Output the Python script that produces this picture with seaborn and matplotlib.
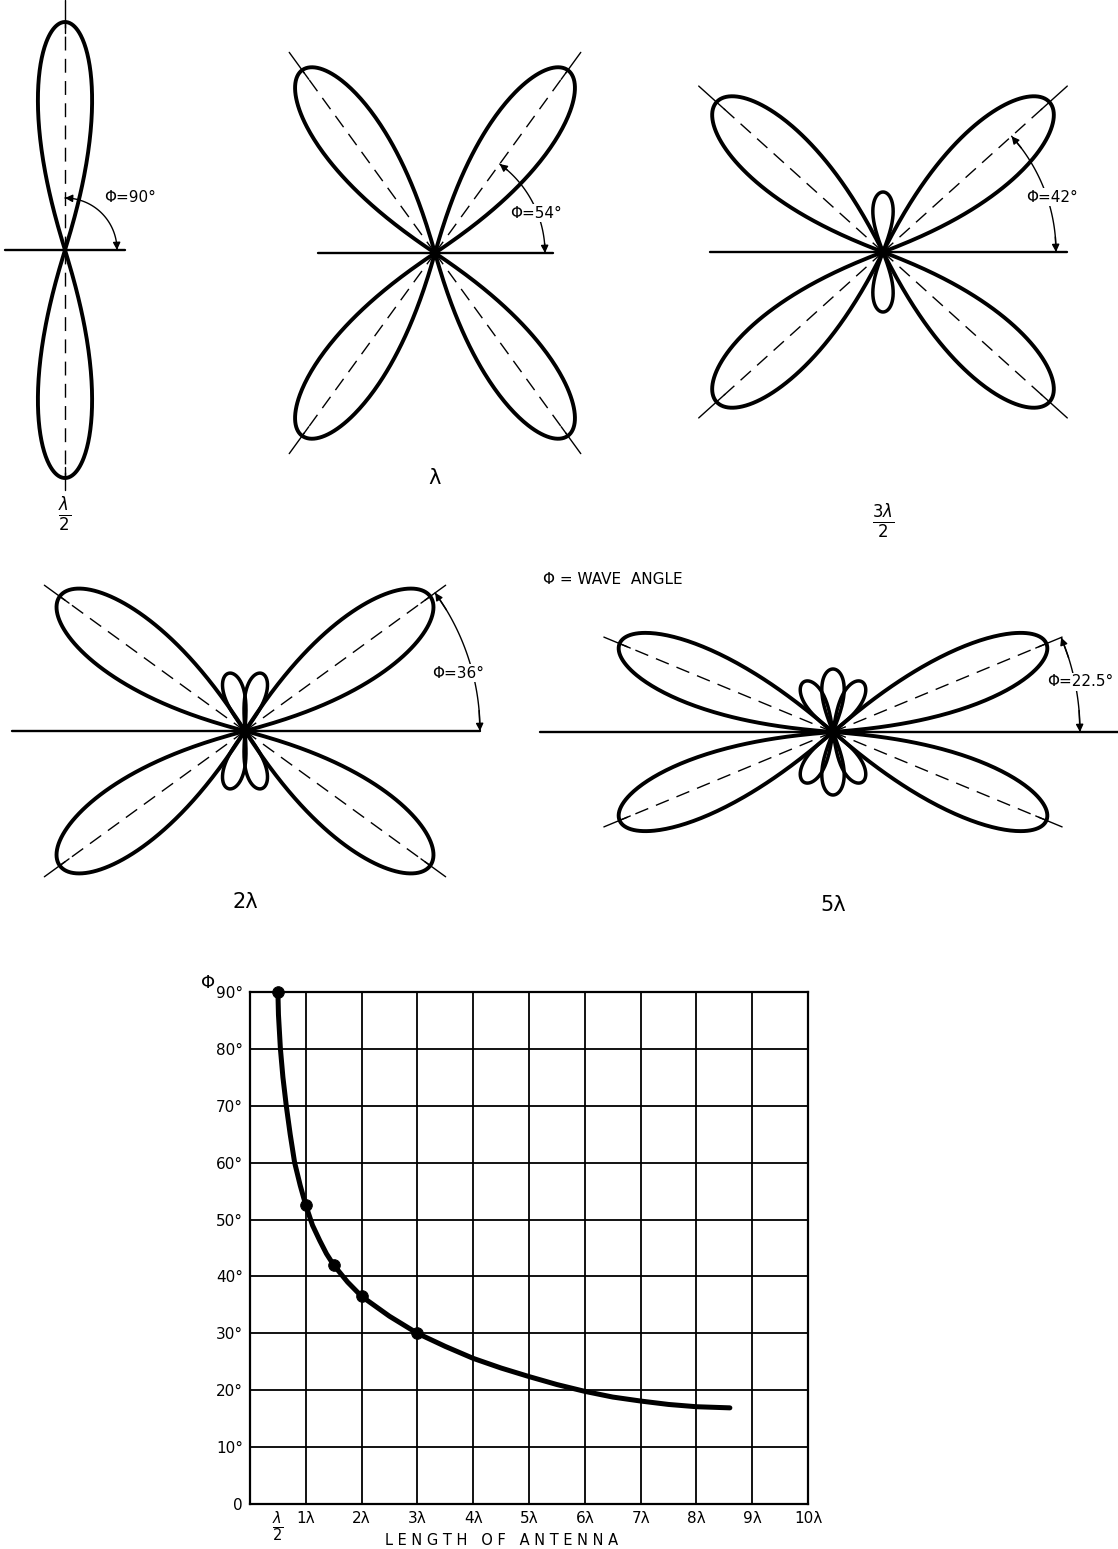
import numpy as np
import matplotlib.pyplot as plt
import seaborn as sns

W, H = 1118, 1549

# radiation patterns (angles in degrees, lengths in px of the drawing)
pattern_labels = [r"$\frac{\lambda}{2}$", "λ", r"$\frac{3\lambda}{2}$", "2λ", "5λ"]
angle_labels = ["Φ=90°", "Φ=54°", "Φ=42°", "Φ=36°", "Φ=22.5°"]
wave_angles = [90, 54, 42, 36, 22.5]
main_lengths = [228, 226, 224, 229, 231]
main_halfwidth = [17, 20, 21, 21, 18]
minor_angles = [[], [], [90], [74, 106], [60, 90, 120]]
minor_lengths = [[], [], [60], [60, 60], [58, 63, 58]]
minor_halfwidth = [0, 0, 20, 20, 21]

# wave angle against antenna length
length_lambda = [0.5, 0.51, 0.545, 0.59, 0.65, 0.72, 0.8, 0.9, 1, 1.12, 1.25, 1.37,
                 1.5, 1.75, 2, 2.5, 3, 3.5, 4, 4.5, 5, 5.5, 6, 6.5, 7, 7.5, 8, 8.6]
wave_angle_deg = [90, 86, 80, 75, 70, 65, 60, 56, 52.5, 49, 46.3, 44,
                  42, 39, 36.5, 33, 30, 27.7, 25.6, 23.9, 22.4, 21, 19.8, 18.8,
                  18.1, 17.5, 17.1, 16.9]
marked_length = [0.5, 1, 1.5, 2, 3]
marked_angle = [90, 52.5, 42, 36.5, 30]
x_tick_labels = ["", "1λ", "2λ", "3λ", "4λ", "5λ", "6λ", "7λ", "8λ", "9λ", "10λ"]
y_tick_labels = ["0"] + [f"{v}°" for v in range(10, 100, 10)]

# layout of the pattern drawings (pixels)
centers = [(65, 250), (435, 253), (883, 252), (245, 731), (833, 732)]
hline_span = [(-60, 60), (-117, 118), (-173, 184), (-233, 235), (-293, 290)]
arc_radius = [52, 110, 173, 235, 247]
label_offset = [(65, 53), (101, 40), (169, 55), (213, 58), (247, 50)]
name_offset = [-265, -225, -270, -171, -173]
ext_radius = 248

sns.set_style("white")
plt.rcParams["font.family"] = ["DejaVu Sans"]
plt.rcParams["text.color"] = "black"
plt.rcParams["xtick.color"] = "black"
plt.rcParams["ytick.color"] = "black"
fig = plt.figure(figsize=(W / 100, H / 100), dpi=100)
R = 320


def lobe(angle, length, half_w, p=0.8, n=240):
    d = np.radians(np.linspace(-half_w, half_w, n))
    w = np.radians(half_w)
    r = length * np.clip(np.cos(np.pi * d / (2 * w)), 0, None) ** p
    th = np.radians(angle) + d
    return r * np.cos(th), r * np.sin(th)


def line(ax, x, y, **kw):
    sns.lineplot(x=list(x), y=list(y), ax=ax, sort=False, estimator=None,
                 color="black", legend=False, **kw)


for i, (cx, cy) in enumerate(centers):
    ax = fig.add_axes([(cx - R) / W, 1 - (cy + R) / H, 2 * R / W, 2 * R / H])
    ax.set_xlim(-R, R)
    ax.set_ylim(-R, R)
    ax.set_aspect("equal")
    ax.axis("off")
    wa = wave_angles[i]
    L = main_lengths[i]
    dirs = sorted({wa, 180 - wa, 180 + wa, 360 - wa})
    for a in dirs:
        c, s = np.cos(np.radians(a)), np.sin(np.radians(a))
        line(ax, [0, c * L], [0, s * L], lw=1.0, linestyle=(0, (10, 6)))
        ext = ext_radius if i > 0 else (250 if s > 0 else 240)
        line(ax, [c * L * 0.95, c * ext], [s * L * 0.95, s * ext], lw=1.0)
        x, y = lobe(a, L, main_halfwidth[i], p=0.75)
        line(ax, x, y, lw=2.8)
    for a, ml in zip(minor_angles[i], minor_lengths[i]):
        for aa in (a, -a):
            x, y = lobe(aa, ml, minor_halfwidth[i], p=0.45)
            line(ax, x, y, lw=2.5)
    x0, x1 = hline_span[i]
    line(ax, [x0, x1], [0, 0], lw=1.7)
    # wave angle arc with arrowheads
    ra = arc_radius[i]
    t = np.radians(np.linspace(0, wa, 120))
    line(ax, ra * np.cos(t), ra * np.sin(t), lw=1.0)
    for te, tp in [(wa, wa - 5), (0, 5)]:
        ax.annotate("", xy=(ra * np.cos(np.radians(te)), ra * np.sin(np.radians(te))),
                    xytext=(ra * np.cos(np.radians(tp)), ra * np.sin(np.radians(tp))),
                    arrowprops=dict(arrowstyle="-|>", color="black", lw=1.0,
                                    mutation_scale=11, shrinkA=0, shrinkB=0))
    dx, dy = label_offset[i]
    ax.text(dx, dy, angle_labels[i], fontsize=11, ha="center", va="center",
            bbox=dict(fc="white", ec="none", pad=1.0))
    ax.text(0, name_offset[i], pattern_labels[i], fontsize=17 if i in (0, 2) else 15,
            ha="center", va="center")

fig.text(613 / W, 1 - 580 / H, "Φ = WAVE  ANGLE", fontsize=11, ha="center", va="center")

# wave angle chart
ax = fig.add_axes([250 / W, 1 - 1504 / H, 558 / W, 512 / H])
sns.lineplot(x=length_lambda, y=wave_angle_deg, ax=ax, sort=False, estimator=None,
             color="black", lw=3.6, zorder=3)
sns.scatterplot(x=marked_length, y=marked_angle, ax=ax, color="black", s=70,
                edgecolor="black", zorder=4, clip_on=False)
ax.set_xlim(0, 10)
ax.set_ylim(0, 90)
ax.set_xticks(range(11))
ax.set_xticklabels(x_tick_labels, fontsize=11)
ax.set_yticks(range(0, 100, 10))
ax.set_yticklabels(y_tick_labels, fontsize=11)
ax.tick_params(length=0, pad=5)
ax.grid(True, color="black", lw=1.3)
for sp in ax.spines.values():
    sp.set_color("black")
    sp.set_linewidth(1.6)
ax.set_xlabel("")
ax.set_ylabel("")
ax.text(0.5, -0.045, r"$\frac{\lambda}{2}$", transform=ax.get_xaxis_transform(),
        fontsize=15, ha="center", va="center")
ax.text(4.5, -0.072, "L E N G T H   O F   A N T E N N A", transform=ax.get_xaxis_transform(),
        fontsize=10.5, ha="center", va="center")
ax.text(-0.075, 1.018, "Φ", transform=ax.transAxes, fontsize=13, ha="center", va="center")

fig.savefig("out.png", dpi=100, facecolor="white")
